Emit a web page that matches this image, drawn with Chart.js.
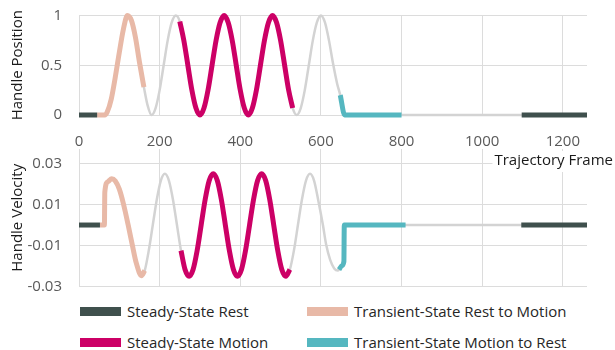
<!DOCTYPE html>
<html>
<head>
<meta charset="utf-8">
<script src="https://cdn.jsdelivr.net/npm/chart.js@4.4.1/dist/chart.umd.min.js"></script>
<style>
  body { margin: 0; width: 615px; height: 350px; overflow: hidden; position: relative; background: #fff; font-family: "Open Sans", sans-serif; }
  canvas { position: absolute; left: 0; }
  #posChart { top: 0; z-index: 2; }
  #velChart { top: 140px; z-index: 1; }
  .item { position: absolute; display: flex; align-items: center; font-size: 15px; color: #262626; white-space: nowrap; }
  .swatch { width: 41px; height: 9px; margin-right: 6px; }
</style>
</head>
<body>
<canvas id="velChart" width="615" height="160"></canvas>
<canvas id="posChart" width="615" height="172"></canvas>
<div id="legend"></div>
<script>
// values
const posFrames = [0, 45, 64, 70, 80, 90, 100, 110, 120, 130, 140, 150, 161, 170, 180,
  190, 200, 210, 220, 230, 240, 250, 260, 270, 280, 290, 300,
  310, 320, 330, 340, 350, 360, 370, 380, 390, 400, 410, 420,
  430, 440, 450, 460, 470, 480, 490, 500, 510, 520, 530, 540,
  550, 560, 570, 580, 590, 600, 610, 620, 630, 640, 648, 659,
  700, 800, 900, 1000, 1098, 1200, 1260];
const posValues = [0, 0, 0, 0.03, 0.16, 0.38, 0.63, 0.86, 1, 0.95, 0.78, 0.53, 0.28, 0.1, 0,
  0.07, 0.25, 0.5, 0.75, 0.93, 1, 0.94, 0.75, 0.5, 0.25, 0.07, 0,
  0.07, 0.25, 0.5, 0.75, 0.93, 1, 0.93, 0.75, 0.5, 0.25, 0.07, 0,
  0.07, 0.25, 0.5, 0.75, 0.93, 1, 0.93, 0.75, 0.5, 0.25, 0.07, 0,
  0.07, 0.25, 0.5, 0.75, 0.93, 1, 0.93, 0.75, 0.52, 0.32, 0.2, 0,
  0, 0, 0, 0, 0, 0, 0];

const velFrames = [0, 52, 63, 64, 72, 81, 90, 100, 110, 122, 132, 142, 155, 163,
  173, 183, 193, 203, 213, 223, 233, 243, 253, 263, 273,
  283, 293, 303, 313, 323, 333, 343, 353, 363, 373, 383, 393,
  403, 413, 423, 433, 443, 453, 463, 473, 483, 493, 503, 513,
  523, 533, 543, 553, 563, 573, 583, 593, 605, 613, 623, 633, 642,
  645, 652, 657, 658, 700, 810, 900, 1000, 1097, 1200, 1260];
const velValues = [0, 0, 0, 0.016, 0.0212, 0.0226, 0.0215, 0.0175, 0.0105, 0, -0.0095, -0.0185, -0.0247, -0.0222,
  -0.0125, 0, 0.0125, 0.0217, 0.025, 0.0217, 0.0125, 0, -0.0125, -0.0217, -0.025,
  -0.0217, -0.0125, 0, 0.0125, 0.0217, 0.025, 0.0217, 0.0125, 0, -0.0125, -0.0217, -0.025,
  -0.0217, -0.0125, 0, 0.0125, 0.0217, 0.025, 0.0217, 0.0125, 0, -0.0125, -0.0217, -0.025,
  -0.0217, -0.0125, 0, 0.0125, 0.0217, 0.025, 0.0217, 0.0125, 0, -0.0095, -0.017, -0.0212, -0.0222,
  -0.0218, -0.0198, -0.0178, 0, 0, 0, 0, 0, 0, 0, 0];

const xTicks = [0, 200, 400, 600, 800, 1000, 1200];
const posTicks = [0, 0.5, 1];
const velTicks = [-0.03, -0.01, 0.01, 0.03];

const phaseNames = ['Steady-State Rest', 'Transient-State Rest to Motion', 'Steady-State Motion', 'Transient-State Motion to Rest'];
const phaseColors = ['#3f504d', '#e8b9a7', '#cc0066', '#55b7c0'];
// [phase, first frame, last frame]
const posPhases = [[0, 0, 45], [1, 45, 161], [2, 250, 530], [3, 648, 800], [0, 1098, 1260]];
const velPhases = [[0, 0, 52], [1, 52, 163], [2, 253, 523], [3, 645, 810], [0, 1097, 1260]];

const gridColor = '#dcdcdc';
const font = { family: 'Open Sans', size: 15 };

function makeSets(frames, values, phases) {
    const pts = frames.map((f, i) => ({ x: f, y: values[i] }));
    const sets = [{ data: pts, borderColor: '#d3d3d3', borderWidth: 2.5, order: 1 }];
    phases.forEach(([k, from, to]) => {
        sets.push({
            data: pts.filter(p => p.x >= from && p.x <= to),
            borderColor: phaseColors[k],
            borderWidth: 5,
            order: 0
        });
    });
    return sets;
}

function setTicks(list) {
    return scale => { scale.ticks = list.map(v => ({ value: v })); };
}

const baseOptions = {
    responsive: false,
    animation: false,
    plugins: { legend: { display: false }, tooltip: { enabled: false } },
    elements: {
        point: { radius: 0 },
        line: { cubicInterpolationMode: 'monotone', borderCapStyle: 'butt', borderJoinStyle: 'round' }
    },
    datasets: { line: { clip: false } }
};

// invisible tick marks push the labels away without adding layout padding
const yGrid = { color: gridColor, drawTicks: true, tickLength: 17, tickColor: 'rgba(0,0,0,0)' };

// x axis title sits right of the plot, so it is drawn here
const frameTitle = {
    id: 'frameTitle',
    afterDraw(chart) {
        const c = chart.ctx;
        c.save();
        c.font = '15px "Open Sans"';
        const w = c.measureText('Trajectory Frame').width;
        c.fillStyle = '#fff';
        c.fillRect(613 - w - 2, 151, w + 4, 21);
        c.fillStyle = '#1a1a1a';
        c.textAlign = 'right';
        c.textBaseline = 'middle';
        c.fillText('Trajectory Frame', 613, 161);
        c.restore();
    }
};

new Chart(document.getElementById('posChart'), {
    type: 'line',
    data: { datasets: makeSets(posFrames, posValues, posPhases) },
    plugins: [frameTitle],
    options: {
        ...baseOptions,
        layout: { padding: { top: 15.5, right: 28, bottom: 0, left: 0 } },
        scales: {
            x: {
                type: 'linear', min: 0, max: 1260,
                afterBuildTicks: setTicks(xTicks),
                afterFit: s => { s.height = 57; },
                grid: { color: gridColor, drawTicks: true, tickLength: 18, tickColor: 'rgba(0,0,0,0)' },
                border: { display: false },
                ticks: { padding: 0, color: '#595959', font: font, callback: v => String(v) }
            },
            y: {
                min: 0, max: 1,
                afterBuildTicks: setTicks(posTicks),
                afterFit: s => { s.width = 79; },
                grid: yGrid,
                border: { display: false },
                ticks: { padding: 0, color: '#595959', font: font, callback: v => String(v) },
                title: { display: true, text: 'Handle Position', color: '#1a1a1a', font: font, padding: { top: 9, bottom: 0 } }
            }
        }
    }
});

new Chart(document.getElementById('velChart'), {
    type: 'line',
    data: { datasets: makeSets(velFrames, velValues, velPhases) },
    options: {
        ...baseOptions,
        layout: { padding: { top: 9, right: 28, bottom: 13.5, left: 0 } },
        scales: {
            x: {
                type: 'linear', min: 0, max: 1260,
                afterBuildTicks: setTicks(xTicks),
                afterFit: s => { s.height = 0; },
                grid: { color: gridColor, drawTicks: false },
                border: { display: false },
                ticks: { display: false }
            },
            y: {
                min: -0.03, max: 0.0371,
                afterBuildTicks: setTicks(velTicks),
                afterFit: s => { s.width = 79; },
                grid: yGrid,
                border: { display: false },
                ticks: { padding: 0, color: '#595959', font: font, callback: v => String(v) },
                title: { display: true, text: 'Handle Velocity', color: '#1a1a1a', font: font, padding: { top: 9, bottom: 0 } }
            }
        }
    }
});

// legend: two columns, two rows
const legendPos = [[80, 311], [307, 311], [80, 342], [307, 342]];
const legend = document.getElementById('legend');
phaseNames.forEach((name, i) => {
    const item = document.createElement('div');
    item.className = 'item';
    item.style.left = legendPos[i][0] + 'px';
    item.style.top = (legendPos[i][1] - 11) + 'px';
    item.style.height = '22px';
    const sw = document.createElement('span');
    sw.className = 'swatch';
    sw.style.background = phaseColors[i];
    item.appendChild(sw);
    item.appendChild(document.createTextNode(name));
    legend.appendChild(item);
});
</script>
</body>
</html>
